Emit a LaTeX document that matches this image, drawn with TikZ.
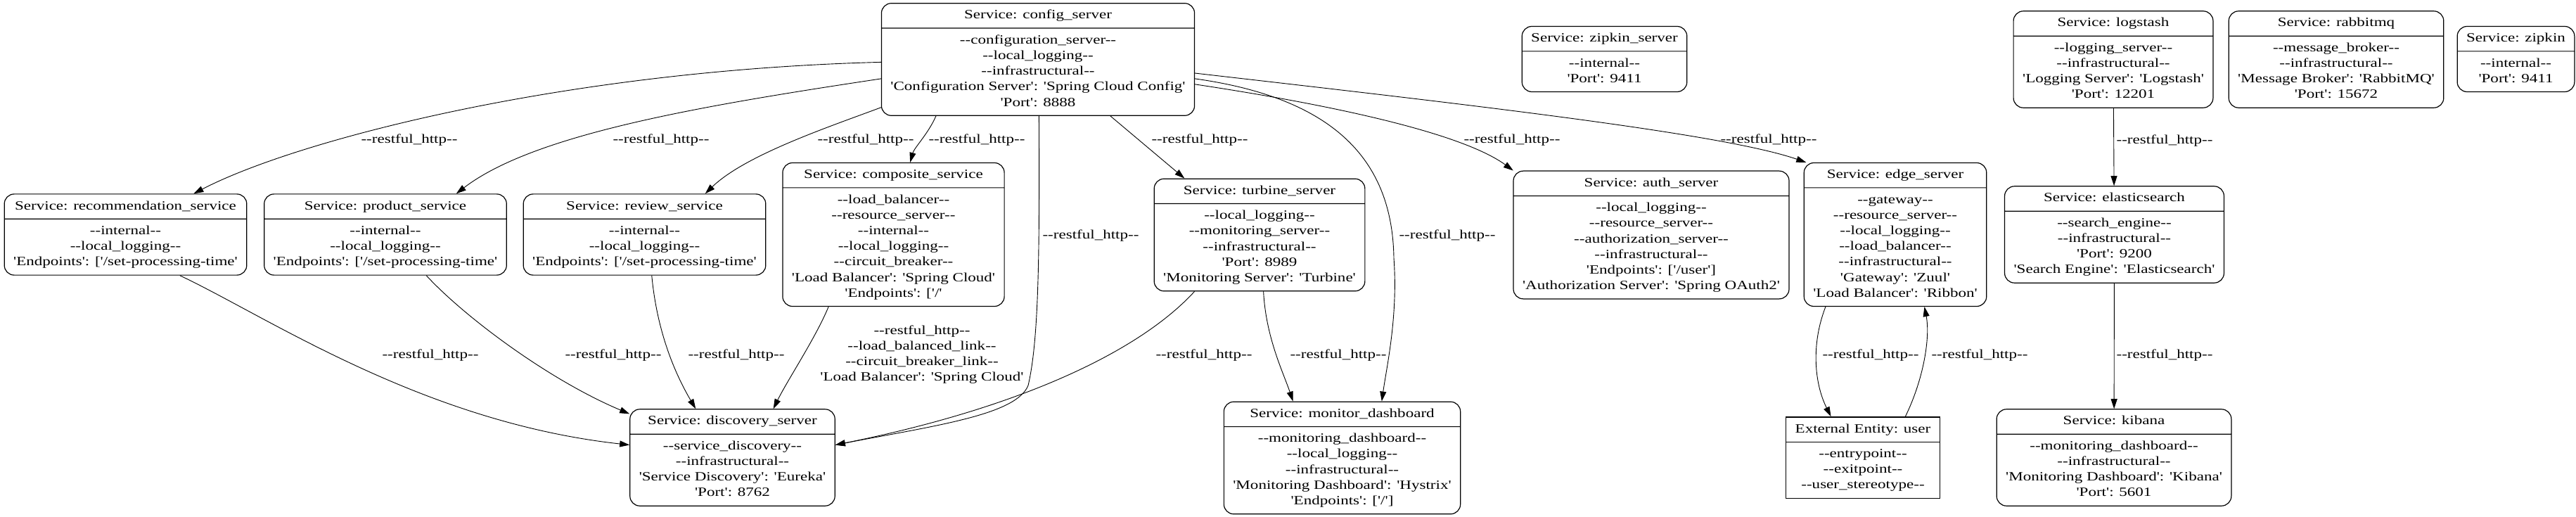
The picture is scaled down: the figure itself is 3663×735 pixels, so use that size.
\documentclass[tikz,border=0pt]{standalone}
\usepackage{fontspec}
\newfontfamily\svcfont{Liberation Serif}[FakeStretch=1.28,Ligatures=TeXOff]
\usetikzlibrary{shapes.multipart,arrows.meta}

\tikzset{
  svc/.style={rectangle split, rectangle split parts=2, draw, line width=1.2pt, rounded corners=14pt, align=center, inner xsep=13pt, inner ysep=6pt, font=\svcfont\fontsize{18}{22.2}\selectfont},
  ent/.style={svc, rounded corners=0pt},
  flow/.style={-{Triangle[length=14pt,width=9pt]}, line width=0.9pt},
  lbl/.style={font=\svcfont\fontsize{18}{22.2}\selectfont, align=center, inner sep=0pt}
}
\newcommand{\svcbox}[2]{\strut #1\nodepart{two}\strut #2\strut}

\begin{document}
\begin{tikzpicture}[x=1pt,y=1pt,yscale=-1,xscale=1]
\useasboundingbox (0,0) rectangle (3663,735);

% Service: first rank
\node[svc] (config) at (1476,84.5) {\svcbox{Service: config\_server}{--configuration\_server--\\--local\_logging--\\--infrastructural--\\'Configuration Server': 'Spring Cloud Config'\\'Port': 8888}};
\node[svc] (zipsrv) at (2281.5,84) {\svcbox{Service: zipkin\_server}{--internal--\\'Port': 9411}};
\node[svc] (logstash) at (3005,84.5) {\svcbox{Service: logstash}{--logging\_server--\\--infrastructural--\\'Logging Server': 'Logstash'\\'Port': 12201}};
\node[svc] (rabbit) at (3322,84.5) {\svcbox{Service: rabbitmq}{--message\_broker--\\--infrastructural--\\'Message Broker': 'RabbitMQ'\\'Port': 15672}};
\node[svc] (zipkin) at (3577.5,84) {\svcbox{Service: zipkin}{--internal--\\'Port': 9411}};

% Service: second rank
\node[svc] (rec) at (178.5,333.5) {\svcbox{Service: recommendation\_service}{--internal--\\--local\_logging--\\'Endpoints': ['/set-processing-time'}};
\node[svc] (product) at (548,333.5) {\svcbox{Service: product\_service}{--internal--\\--local\_logging--\\'Endpoints': ['/set-processing-time'}};
\node[svc] (review) at (916.5,333.5) {\svcbox{Service: review\_service}{--internal--\\--local\_logging--\\'Endpoints': ['/set-processing-time'}};
\node[svc] (composite) at (1270.5,333.5) {\svcbox{Service: composite\_service}{--load\_balancer--\\--resource\_server--\\--internal--\\--local\_logging--\\--circuit\_breaker--\\'Load Balancer': 'Spring Cloud'\\'Endpoints': ['/'}};
\node[svc] (turbine) at (1791,334) {\svcbox{Service: turbine\_server}{--local\_logging--\\--monitoring\_server--\\--infrastructural--\\'Port': 8989\\'Monitoring Server': 'Turbine'}};
\node[svc] (auth) at (2348,334) {\svcbox{Service: auth\_server}{--local\_logging--\\--resource\_server--\\--authorization\_server--\\--infrastructural--\\'Endpoints': ['/user']\\'Authorization Server': 'Spring OAuth2'}};
\node[svc] (edge) at (2695,333.5) {\svcbox{Service: edge\_server}{--gateway--\\--resource\_server--\\--local\_logging--\\--load\_balancer--\\--infrastructural--\\'Gateway': 'Zuul'\\'Load Balancer': 'Ribbon'}};
\node[svc] (elastic) at (3006.5,333.5) {\svcbox{Service: elasticsearch}{--search\_engine--\\--infrastructural--\\'Port': 9200\\'Search Engine': 'Elasticsearch'}};

% Service: third rank
\node[svc] (discovery) at (1041.5,650.5) {\svcbox{Service: discovery\_server}{--service\_discovery--\\--infrastructural--\\'Service Discovery': 'Eureka'\\'Port': 8762}};
\node[svc] (monitor) at (1908.5,651) {\svcbox{Service: monitor\_dashboard}{--monitoring\_dashboard--\\--local\_logging--\\--infrastructural--\\'Monitoring Dashboard': 'Hystrix'\\'Endpoints': ['/']}};
\node[ent] (user) at (2649,650.5) {\svcbox{External Entity: user}{--entrypoint--\\--exitpoint--\\--user\_stereotype--}};
\node[svc] (kibana) at (3006,650.5) {\svcbox{Service: kibana}{--monitoring\_dashboard--\\--infrastructural--\\'Monitoring Dashboard': 'Kibana'\\'Port': 5601}};

% Flow: from config_server
\draw[flow] (config.181) .. controls (800,100) and (420,200) .. (rec.31);
\draw[flow] (config.187) .. controls (1000,150) and (760,190) .. (product.30);
\draw[flow] (config.197) .. controls (1180,180) and (1060,220) .. (review.34);
\draw[flow] (config.209) .. controls (1320,190) and (1300,210) .. (composite.77);
\draw[flow] (config.271.5) .. controls (1478,350) and (1478,480) .. (1462,548) .. controls (1445,590) and (1330,605) .. (discovery.7);
\draw[flow] (config.322) -- (turbine.143);
\draw[flow] (config.353) .. controls (1900,140) and (1980,230) .. (1982,367) .. controls (1988,450) and (1972,520) .. (monitor.55);
\draw[flow] (config.351) .. controls (1900,150) and (2080,190) .. (auth.155);
\draw[flow] (config.355.5) .. controls (2100,150) and (2450,190) .. (edge.141);

% Flow: to discovery_server and monitor_dashboard
\draw[flow] (rec.323) .. controls (380,450) and (600,600) .. (discovery.173);
\draw[flow] (product.315) .. controls (660,450) and (780,540) .. (discovery.157);
\draw[flow] (review.280) .. controls (935,480) and (965,540) .. (discovery.127);
\draw[flow] (composite.228.6) .. controls (1160,480) and (1120,540) .. (discovery.50);
\draw[flow] (turbine.221.6) .. controls (1620,500) and (1450,580) .. (discovery.7);
\draw[flow] (turbine.274.4) .. controls (1800,480) and (1825,530) .. (monitor.131.7);

% Flow: edge_server, user, logging
\draw[flow] (edge.226.3) .. controls (2575,490) and (2580,545) .. (user.128.4);
\draw[flow] (user.44.2) .. controls (2735,540) and (2745,480) .. (edge.292.7);
\draw[flow] (logstash) -- (elastic);
\draw[flow] (elastic) -- (kibana);

% Text Node: flow labels
\node[lbl] (lrec) at (582,199) {--restful\_http--};
\node[lbl] (lprod) at (940,199) {--restful\_http--};
\node[lbl] (lrev) at (1231,199) {--restful\_http--};
\node[lbl] (lcomp) at (1389,199) {--restful\_http--};
\node[lbl] (lcdisc) at (1551,335) {--restful\_http--};
\node[lbl] (lturb) at (1706,199) {--restful\_http--};
\node[lbl] (lmon) at (2058,335) {--restful\_http--};
\node[lbl] (lauth) at (2150,199) {--restful\_http--};
\node[lbl] (ledge) at (2515,199) {--restful\_http--};
\node[lbl] (lrecd) at (612,505) {--restful\_http--};
\node[lbl] (lprodd) at (872,505) {--restful\_http--};
\node[lbl] (lrevd) at (1047,505) {--restful\_http--};
\node[lbl] (lcompd) at (1311,504) {--restful\_http--\\--load\_balanced\_link--\\--circuit\_breaker\_link--\\'Load Balancer': 'Spring Cloud'};
\node[lbl] (lturbd) at (1712,505) {--restful\_http--};
\node[lbl] (lturbm) at (1903,505) {--restful\_http--};
\node[lbl] (luser) at (2660,505) {--restful\_http--};
\node[lbl] (luback) at (2815,505) {--restful\_http--};
\node[lbl] (llog) at (3078,200) {--restful\_http--};
\node[lbl] (lkib) at (3078,505) {--restful\_http--};

\end{tikzpicture}
\end{document}
